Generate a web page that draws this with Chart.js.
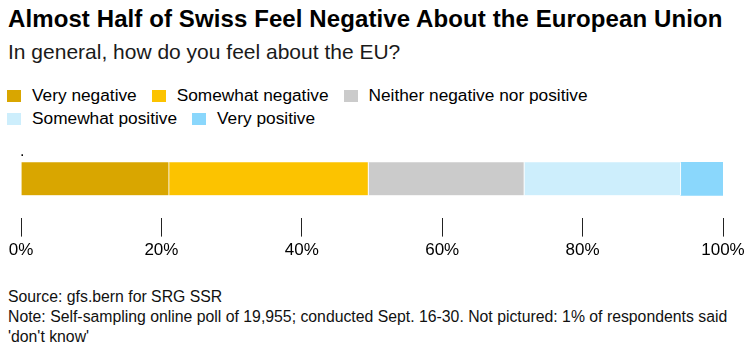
<!DOCTYPE html>
<html>
<head>
<meta charset="utf-8">
<script src="https://cdn.jsdelivr.net/npm/chart.js@4.4.0/dist/chart.umd.min.js"></script>
<style>
  html, body { margin: 0; padding: 0; background: #fff; }
  body { width: 745px; height: 343px; position: relative; overflow: hidden; font-family: "Liberation Sans", Arial, sans-serif; color: #000; }
  #title { position: absolute; left: 8px; top: 5px; font-size: 24px; font-weight: bold; letter-spacing: 0.1px; white-space: nowrap; }
  #subtitle { position: absolute; left: 8px; top: 40px; font-size: 21px; white-space: nowrap; color: #1a1a1a; }
  #legend { position: absolute; left: 7px; top: 84px; font-size: 17.3px; }
  .row { height: 23px; display: flex; align-items: center; white-space: nowrap; }
  .item { display: flex; align-items: center; margin-right: 15px; }
  .box { width: 14px; height: 12px; margin-right: 11px; }
  #footer { position: absolute; left: 8px; top: 287px; font-size: 15.8px; line-height: 20px; color: #111; white-space: nowrap; }
  #wrap { position: absolute; left: 0; top: 0; width: 745px; height: 280px; }
</style>
</head>
<body>
<div id="title">Almost Half of Swiss Feel Negative About the European Union</div>
<div id="subtitle">In general, how do you feel about the EU?</div>
<div id="legend"></div>
<div id="wrap"><canvas id="chart"></canvas></div>
<div id="footer">Source: gfs.bern for SRG SSR<br>Note: Self-sampling online poll of 19,955; conducted Sept. 16-30. Not pictured: 1% of respondents said<br>'don't know'</div>
<script>
// data (percent of respondents)
const categories = ['.'];
const seriesNames = ['Very negative', 'Somewhat negative', 'Neither negative nor positive', 'Somewhat positive', 'Very positive'];
const seriesValues = [21.1, 28.4, 22.2, 22.3, 6.0];
const seriesColors = ['#d9a600', '#fcc300', '#cbcbcb', '#cdeefc', '#8ad7fc'];
const tickValues = [0, 20, 40, 60, 80, 100];

// legend in two rows like the original
const legendRows = [[0, 1, 2], [3, 4]];
const legend = document.getElementById('legend');
legendRows.forEach(r => {
    const row = document.createElement('div');
    row.className = 'row';
    r.forEach(i => {
        const item = document.createElement('div');
        item.className = 'item';
        item.innerHTML = `<span class="box" style="background:${seriesColors[i]}"></span><span>${seriesNames[i]}</span>`;
        row.appendChild(item);
    });
    legend.appendChild(row);
});

// draw category label above the bar
const catLabel = {
    id: 'catLabel',
    afterDatasetsDraw(chart) {
        const ctx = chart.ctx;
        const meta = chart.getDatasetMeta(0);
        ctx.save();
        ctx.fillStyle = '#000';
        ctx.font = '16px "Liberation Sans", Arial, sans-serif';
        ctx.textBaseline = 'bottom';
        meta.data.forEach((bar, i) => {
            const { y, height } = bar.getProps(['y', 'height'], true);
            ctx.fillText(categories[i], chart.chartArea.left - 1, y - height / 2 - 3);
        });
        ctx.restore();
    }
};

new Chart(document.getElementById('chart'), {
    type: 'bar',
    data: {
        labels: categories,
        datasets: seriesNames.map((name, i) => ({
            label: name,
            data: [seriesValues[i]],
            backgroundColor: seriesColors[i],
            borderColor: '#fff',
            borderWidth: { left: 0, top: 0, bottom: 0, right: i < seriesNames.length - 1 ? 1 : 0 },
            borderSkipped: false,
            barThickness: 33
        }))
    },
    options: {
        indexAxis: 'y',
        responsive: true,
        maintainAspectRatio: false,
        animation: false,
        layout: { padding: { left: 21, right: 22, top: 140, bottom: 15 } },
        plugins: { legend: { display: false }, tooltip: { enabled: false } },
        scales: {
            x: {
                stacked: true,
                min: 0,
                max: 100,
                afterBuildTicks: axis => { axis.ticks = tickValues.map(v => ({ value: v })); },
                afterFit: axis => { axis.paddingLeft = 0; axis.paddingRight = 0; },
                border: { display: false },
                grid: { drawOnChartArea: false, drawTicks: true, tickLength: 19, tickWidth: 1, tickColor: '#222' },
                ticks: {
                    color: '#000',
                    padding: 4,
                    maxRotation: 0,
                    font: { size: 17, family: '"Liberation Sans", Arial, sans-serif' },
                    callback: v => v + '%'
                }
            },
            y: { stacked: true, display: false }
        }
    },
    plugins: [catLabel]
});
</script>
</body>
</html>
